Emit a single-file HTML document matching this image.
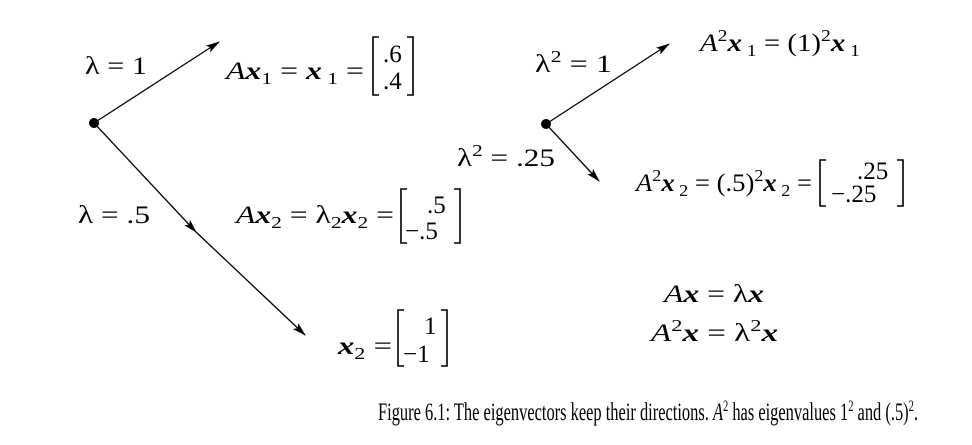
<!DOCTYPE html>
<html><head><meta charset="utf-8"><style>
html,body{margin:0;padding:0;background:#fff;}
svg{display:block;}
text{fill:#000;font-size:25px;font-family:"Liberation Serif","Times New Roman",serif;}
.x{font-weight:bold;font-style:italic;}
.i{font-style:italic;}
.s{font-size:17px;}
.cap{font-size:25px;}
.cap .s{font-size:16px;}
</style></head><body>
<svg width="972" height="445" viewBox="0 0 972 445" xmlns="http://www.w3.org/2000/svg" font-family="Liberation Serif, serif">
<defs><marker id="a" markerWidth="14" markerHeight="8" refX="13" refY="4" orient="auto" markerUnits="userSpaceOnUse"><path d="M0,0 L14,4 L0,8 L3,4 Z" fill="#000"/></marker></defs>
<g stroke="#000" stroke-width="1.3" fill="none">
<line x1="94" y1="123" x2="219" y2="42" marker-end="url(#a)"/>
<line x1="94" y1="123" x2="196" y2="232" marker-end="url(#a)"/>
<line x1="196" y1="232" x2="305" y2="335" marker-end="url(#a)"/>
<line x1="546" y1="124" x2="669" y2="44" marker-end="url(#a)"/>
<line x1="546" y1="124" x2="599" y2="181" marker-end="url(#a)"/>
</g>
<circle cx="94" cy="123" r="5" fill="#000"/>
<circle cx="546" cy="124" r="5" fill="#000"/>
<g stroke="#000" stroke-width="1.6" fill="none">
<path d="M379,37 H373 V95 H379"/><path d="M407,37 H413 V95 H407"/>
<path d="M407,189 H401 V243 H407"/><path d="M454,189 H460 V243 H454"/>
<path d="M404,310 H398 V366 H404"/><path d="M441,310 H447 V366 H441"/>
<path d="M826,160 H820 V206 H826"/><path d="M897,160 H903 V206 H897"/>
</g>
<text x="85" y="74" textLength="62" lengthAdjust="spacingAndGlyphs">λ = 1</text>
<text x="226" y="79" textLength="138" lengthAdjust="spacingAndGlyphs"><tspan class="i">A</tspan><tspan class="x">x</tspan><tspan class="s" dy="5">1</tspan><tspan dy="-5"> = </tspan><tspan class="x">x</tspan><tspan class="s" dy="5"> 1</tspan><tspan dy="-5"> =</tspan></text>
<text x="383" y="62">.6</text><text x="383" y="89">.4</text>
<text x="78" y="223" textLength="72" lengthAdjust="spacingAndGlyphs">λ = .5</text>
<text x="236" y="223" textLength="158" lengthAdjust="spacingAndGlyphs"><tspan class="i">A</tspan><tspan class="x">x</tspan><tspan class="s" dy="5">2</tspan><tspan dy="-5"> = λ</tspan><tspan class="s" dy="5">2</tspan><tspan class="x" dy="-5">x</tspan><tspan class="s" dy="5">2</tspan><tspan dy="-5"> =</tspan></text>
<text x="427" y="213">.5</text><text x="405" y="239">−.5</text>
<text x="338" y="354" textLength="54" lengthAdjust="spacingAndGlyphs"><tspan class="x">x</tspan><tspan class="s" dy="5">2</tspan><tspan dy="-5"> =</tspan></text>
<text x="424" y="334">1</text><text x="403" y="362">−1</text>
<text x="535" y="72" textLength="77" lengthAdjust="spacingAndGlyphs">λ<tspan class="s" dy="-10">2</tspan><tspan dy="10"> = 1</tspan></text>
<text x="700" y="51" textLength="160" lengthAdjust="spacingAndGlyphs"><tspan class="i">A</tspan><tspan class="s" dy="-10">2</tspan><tspan class="x" dy="10">x</tspan><tspan class="s" dy="5"> 1</tspan><tspan dy="-5"> = (1)</tspan><tspan class="s" dy="-10">2</tspan><tspan class="x" dy="10">x</tspan><tspan class="s" dy="5"> 1</tspan></text>
<text x="457" y="166" textLength="98" lengthAdjust="spacingAndGlyphs">λ<tspan class="s" dy="-10">2</tspan><tspan dy="10"> = .25</tspan></text>
<text x="636" y="191" textLength="176" lengthAdjust="spacingAndGlyphs"><tspan class="i">A</tspan><tspan class="s" dy="-10">2</tspan><tspan class="x" dy="10">x</tspan><tspan class="s" dy="5"> 2</tspan><tspan dy="-5"> = (.5)</tspan><tspan class="s" dy="-10">2</tspan><tspan class="x" dy="10">x</tspan><tspan class="s" dy="5"> 2</tspan><tspan dy="-5"> =</tspan></text>
<text x="857" y="179">.25</text><text x="831" y="202">−.25</text>
<text x="664" y="302" textLength="100" lengthAdjust="spacingAndGlyphs"><tspan class="i">A</tspan><tspan class="x">x</tspan> = λ<tspan class="x">x</tspan></text>
<text x="651" y="341" textLength="127" lengthAdjust="spacingAndGlyphs"><tspan class="i">A</tspan><tspan class="s" dy="-10">2</tspan><tspan class="x" dy="10">x</tspan> = λ<tspan class="s" dy="-10">2</tspan><tspan class="x" dy="10">x</tspan></text>
<text class="cap" x="378" y="420" textLength="540" lengthAdjust="spacingAndGlyphs">Figure 6.1: The eigenvectors keep their directions. <tspan class="i">A</tspan><tspan class="s" dy="-9">2</tspan><tspan dy="9"> has eigenvalues 1</tspan><tspan class="s" dy="-9">2</tspan><tspan dy="9"> and (.5)</tspan><tspan class="s" dy="-9">2</tspan><tspan dy="9">.</tspan></text>
</svg>
</body></html>
